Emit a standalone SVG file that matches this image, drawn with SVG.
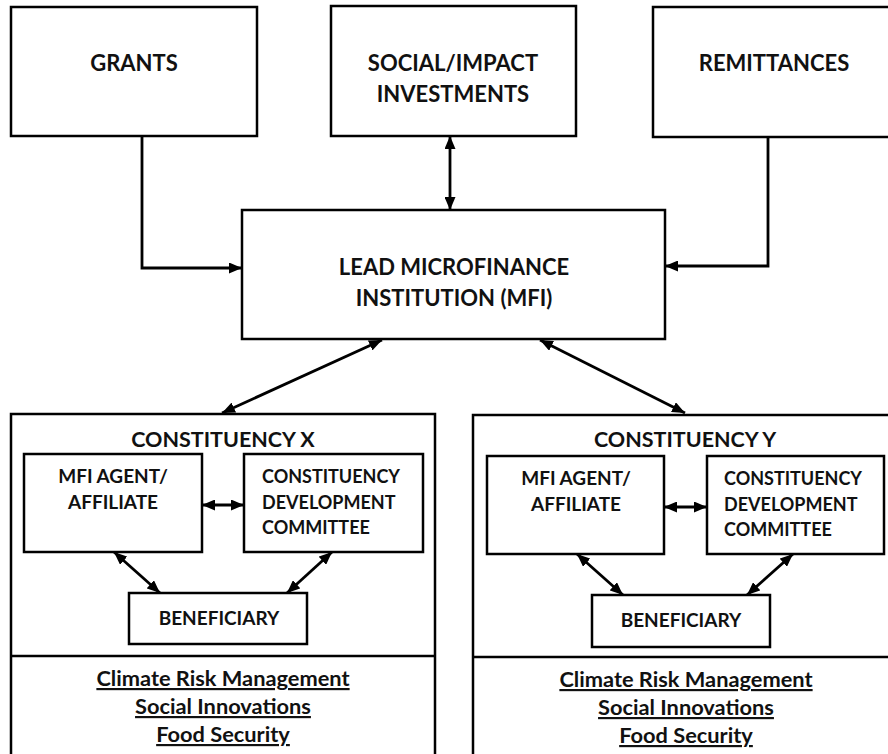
<svg xmlns="http://www.w3.org/2000/svg" width="888" height="754" viewBox="0 0 888 754">
<defs>
<style>
.box{fill:#fff;stroke:#000;stroke-width:2.5}
.ln{fill:none;stroke:#000;stroke-width:2.8}
.t{font-family:Lato,"Open Sans","Liberation Sans",sans-serif;font-weight:bold;fill:#111;font-size:22px;text-anchor:middle}
.h{font-size:21.5px}
.s{font-size:19px}
.c{font-size:18px}
.l{text-anchor:start}
.u{text-decoration:underline;font-size:21.8px}
</style>
<marker id="ah" viewBox="0 0 13 11" refX="13" refY="5.5" markerWidth="13" markerHeight="11" markerUnits="userSpaceOnUse" orient="auto-start-reverse">
<path d="M0,0 L13,5.5 L0,11 z" fill="#000"/>
</marker>
</defs>
<rect width="888" height="754" fill="#fff"/>

<g id="grants"><rect class="box" x="11" y="7" width="246" height="129"/><text class="t" x="134" y="71">GRANTS</text></g>
<g id="social"><rect class="box" x="331" y="6" width="245" height="130"/><text class="t" x="453" y="71">SOCIAL/IMPACT</text><text class="t" x="453" y="102">INVESTMENTS</text></g>
<g id="remittances"><rect class="box" x="653" y="7" width="260" height="130"/><text class="t" x="774" y="71">REMITTANCES</text></g>
<g id="mfi"><rect class="box" x="242" y="210" width="423" height="129"/><text class="t" x="454" y="275">LEAD MICROFINANCE</text><text class="t" x="454" y="306">INSTITUTION (MFI)</text></g>

<g id="constX">
<rect class="box" x="11" y="414" width="424" height="360"/>
<line class="box" x1="11" y1="656" x2="435" y2="656"/>
<text class="t h" x="223" y="447">CONSTITUENCY X</text>
<text class="t u" x="223" y="686">Climate Risk Management</text>
<text class="t u" x="223" y="714">Social Innovations</text>
<text class="t u" x="223" y="742">Food Security</text>
</g>
<g id="agentX"><rect class="box" x="24" y="454" width="178" height="98"/><text class="t s" x="113" y="483">MFI AGENT/</text><text class="t s" x="113" y="509">AFFILIATE</text></g>
<g id="cdcX"><rect class="box" x="244" y="454" width="179" height="98"/><text class="t c l" x="262" y="483">CONSTITUENCY</text><text class="t c l" x="262" y="509">DEVELOPMENT</text><text class="t c l" x="262" y="534">COMMITTEE</text></g>
<g id="benX"><rect class="box" x="129" y="593" width="178" height="51"/><text class="t s" x="219" y="625">BENEFICIARY</text></g>

<g id="constY">
<rect class="box" x="473" y="415" width="440" height="360"/>
<line class="box" x1="473" y1="657" x2="900" y2="657"/>
<text class="t h" x="685" y="447">CONSTITUENCY Y</text>
<text class="t u" x="686" y="687">Climate Risk Management</text>
<text class="t u" x="686" y="715">Social Innovations</text>
<text class="t u" x="686" y="743">Food Security</text>
</g>
<g id="agentY"><rect class="box" x="487" y="456" width="177" height="98"/><text class="t s" x="576" y="485">MFI AGENT/</text><text class="t s" x="576" y="511">AFFILIATE</text></g>
<g id="cdcY"><rect class="box" x="707" y="456" width="177" height="98"/><text class="t c l" x="724" y="485">CONSTITUENCY</text><text class="t c l" x="724" y="511">DEVELOPMENT</text><text class="t c l" x="724" y="536">COMMITTEE</text></g>
<g id="benY"><rect class="box" x="592" y="595" width="178" height="52"/><text class="t s" x="681" y="627">BENEFICIARY</text></g>

<g id="connectors">
<polyline class="ln" points="142,136 142,268 242,268" marker-end="url(#ah)"/>
<polyline class="ln" points="768,137 768,266 665,266" marker-end="url(#ah)"/>
<line class="ln" x1="450" y1="136" x2="450" y2="210" marker-start="url(#ah)" marker-end="url(#ah)"/>
<line class="ln" x1="382" y1="340" x2="222" y2="413" marker-start="url(#ah)" marker-end="url(#ah)"/>
<line class="ln" x1="540" y1="340" x2="685" y2="413" marker-start="url(#ah)" marker-end="url(#ah)"/>
<line class="ln" x1="202" y1="505" x2="244" y2="505" marker-start="url(#ah)" marker-end="url(#ah)"/>
<line class="ln" x1="114" y1="552" x2="160" y2="593" marker-start="url(#ah)" marker-end="url(#ah)"/>
<line class="ln" x1="332" y1="552" x2="287" y2="593" marker-start="url(#ah)" marker-end="url(#ah)"/>
<line class="ln" x1="664" y1="507" x2="707" y2="507" marker-start="url(#ah)" marker-end="url(#ah)"/>
<line class="ln" x1="577" y1="554" x2="623" y2="595" marker-start="url(#ah)" marker-end="url(#ah)"/>
<line class="ln" x1="793" y1="554" x2="747" y2="595" marker-start="url(#ah)" marker-end="url(#ah)"/>
</g>
</svg>
